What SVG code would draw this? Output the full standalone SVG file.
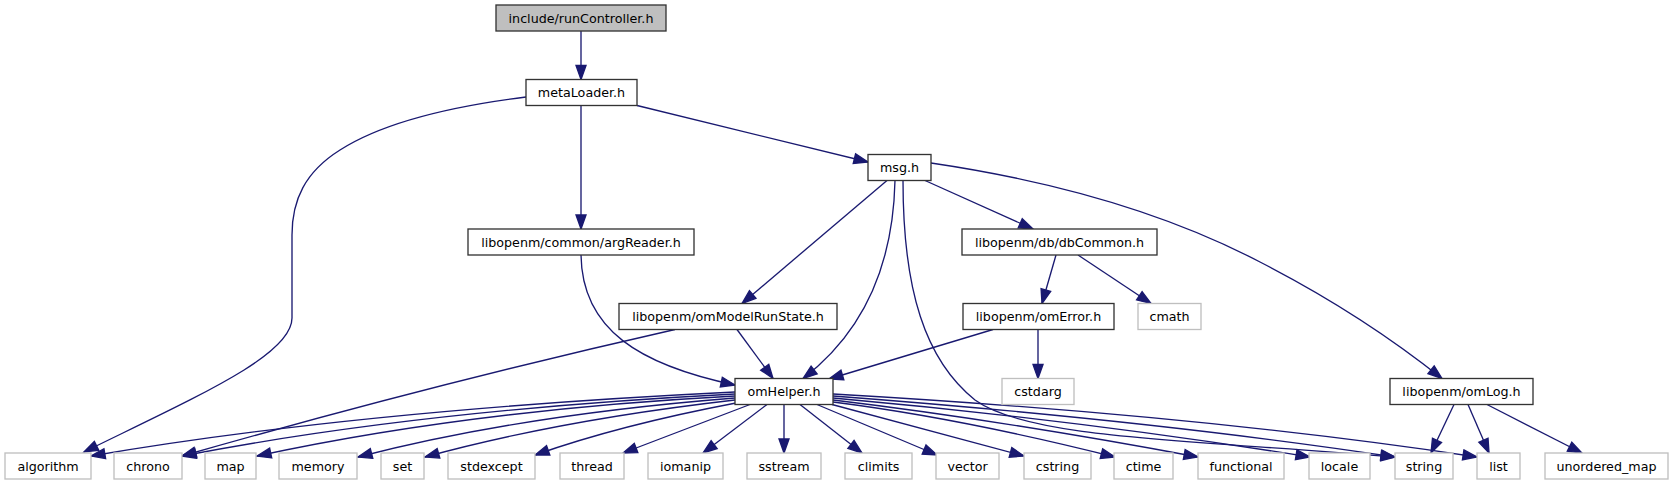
<svg xmlns="http://www.w3.org/2000/svg" width="1674" height="485" viewBox="0 0 1674 485">
<style>
.n rect{fill:#fff;stroke:#333;stroke-width:1.33}
.m rect{fill:#bfbfbf}
.x rect{stroke:#bfbfbf}
text{font-family:"DejaVu Sans","Liberation Sans",sans-serif;font-size:12.7px;text-anchor:middle;fill:#000}
#edges path{fill:none;stroke:#191970;stroke-width:1.33;marker-end:url(#a)}
</style>
<defs>
<marker id="a" viewBox="0 0 16 12" refX="15" refY="6" markerWidth="16" markerHeight="12" markerUnits="userSpaceOnUse" orient="auto" overflow="visible">
<path d="M1,1 L15,6 L1,11 z" fill="#191970" stroke="#191970" stroke-width="1.33"/>
</marker>
</defs>
<rect width="1674" height="485" fill="#fff"/>
<g id="edges">
<path d="M581,31 L581,79.5"/>
<path d="M526,97 C470,104 390,118 340,150 C305,172 292,200 292,235 L292,318 C292,355 200,395 84,452"/>
<path d="M581,105.5 L581,229"/>
<path d="M637,105.5 L868,162"/>
<path d="M887,180.5 L742,303.5"/>
<path d="M895,180.5 C893,270 860,335 803,378.5"/>
<path d="M903,180.5 C903,290 925,360 975,400 C1030,440 1200,440 1395,457"/>
<path d="M925,180.5 L1033,229"/>
<path d="M931,163 C1060,182 1170,215 1260,262 C1340,303 1400,345 1442,378.5"/>
<path d="M581,255 C582,330 640,365 735,385"/>
<path d="M675,329.5 Q430,385 182,456"/>
<path d="M737,329.5 L773,378.5"/>
<path d="M993,329.5 L829,379"/>
<path d="M1038,329.5 L1038,378.5"/>
<path d="M1056,255 L1042,303.5"/>
<path d="M1078,255 L1151,303.5"/>
<path d="M1454,404.5 L1431,453"/>
<path d="M1468,404.5 L1489,453"/>
<path d="M1487,404.5 L1582,453"/>
<path d="M735,392 Q360,410 91,456"/>
<path d="M735,394 Q420,410 182,456"/>
<path d="M735,396 Q470,410 257,456"/>
<path d="M735,398 Q520,415 358,457"/>
<path d="M735,400 Q560,420 425,457"/>
<path d="M736,403 Q620,425 535,455"/>
<path d="M750,404.5 L623,453"/>
<path d="M767,404.5 L703,453"/>
<path d="M784,404.5 L784,453"/>
<path d="M800,404.5 L862,453"/>
<path d="M817,404.5 L937,455"/>
<path d="M832,404.5 L1024,456"/>
<path d="M833,402 Q960,418 1115,457"/>
<path d="M833,400 Q1000,420 1198,457"/>
<path d="M833,398 Q1080,420 1310,457"/>
<path d="M833,396 Q1150,420 1395,457"/>
<path d="M833,394 Q1200,415 1477,457"/>
</g>
<g id="runController" class="n m"><rect x="496" y="5" width="170" height="26"/><text x="581" y="22.5">include/runController.h</text></g>
<g id="metaLoader" class="n"><rect x="526" y="79.5" width="111" height="26"/><text x="581.5" y="97">metaLoader.h</text></g>
<g id="msg" class="n"><rect x="868" y="154.5" width="63" height="26"/><text x="899.5" y="172">msg.h</text></g>
<g id="argReader" class="n"><rect x="468" y="229" width="226" height="26"/><text x="581" y="246.5">libopenm/common/argReader.h</text></g>
<g id="dbCommon" class="n"><rect x="962" y="229" width="195" height="26"/><text x="1059.5" y="246.5">libopenm/db/dbCommon.h</text></g>
<g id="omModelRunState" class="n"><rect x="619" y="303.5" width="218" height="26"/><text x="728" y="321">libopenm/omModelRunState.h</text></g>
<g id="omError" class="n"><rect x="963" y="303.5" width="151" height="26"/><text x="1038.5" y="321">libopenm/omError.h</text></g>
<g id="cmath" class="n x"><rect x="1138" y="303.5" width="63" height="26"/><text x="1169.5" y="321">cmath</text></g>
<g id="omHelper" class="n"><rect x="735" y="378.5" width="98" height="26"/><text x="784" y="396">omHelper.h</text></g>
<g id="cstdarg" class="n x"><rect x="1002" y="378.5" width="72" height="26"/><text x="1038" y="396">cstdarg</text></g>
<g id="omLog" class="n"><rect x="1390" y="378.5" width="143" height="26"/><text x="1461.5" y="396">libopenm/omLog.h</text></g>
<g id="algorithm" class="n x"><rect x="5" y="453" width="86" height="26"/><text x="48" y="470.5">algorithm</text></g>
<g id="chrono" class="n x"><rect x="114" y="453" width="68" height="26"/><text x="148" y="470.5">chrono</text></g>
<g id="map" class="n x"><rect x="205" y="453" width="51" height="26"/><text x="230.5" y="470.5">map</text></g>
<g id="memory" class="n x"><rect x="279" y="453" width="78" height="26"/><text x="318" y="470.5">memory</text></g>
<g id="set" class="n x"><rect x="381" y="453" width="43" height="26"/><text x="402.5" y="470.5">set</text></g>
<g id="stdexcept" class="n x"><rect x="448" y="453" width="87" height="26"/><text x="491.5" y="470.5">stdexcept</text></g>
<g id="thread" class="n x"><rect x="560" y="453" width="64" height="26"/><text x="592" y="470.5">thread</text></g>
<g id="iomanip" class="n x"><rect x="648" y="453" width="75" height="26"/><text x="685.5" y="470.5">iomanip</text></g>
<g id="sstream" class="n x"><rect x="747" y="453" width="74" height="26"/><text x="784" y="470.5">sstream</text></g>
<g id="climits" class="n x"><rect x="845" y="453" width="67" height="26"/><text x="878.5" y="470.5">climits</text></g>
<g id="vector" class="n x"><rect x="936" y="453" width="63" height="26"/><text x="967.5" y="470.5">vector</text></g>
<g id="cstring" class="n x"><rect x="1024" y="453" width="67" height="26"/><text x="1057.5" y="470.5">cstring</text></g>
<g id="ctime" class="n x"><rect x="1114" y="453" width="59" height="26"/><text x="1143.5" y="470.5">ctime</text></g>
<g id="functional" class="n x"><rect x="1198" y="453" width="86" height="26"/><text x="1241" y="470.5">functional</text></g>
<g id="locale" class="n x"><rect x="1309" y="453" width="61" height="26"/><text x="1339.5" y="470.5">locale</text></g>
<g id="string" class="n x"><rect x="1395" y="453" width="58" height="26"/><text x="1424" y="470.5">string</text></g>
<g id="list" class="n x"><rect x="1477" y="453" width="43" height="26"/><text x="1498.5" y="470.5">list</text></g>
<g id="unordered_map" class="n x"><rect x="1545" y="453" width="123" height="26"/><text x="1606.5" y="470.5">unordered_map</text></g>
</svg>
